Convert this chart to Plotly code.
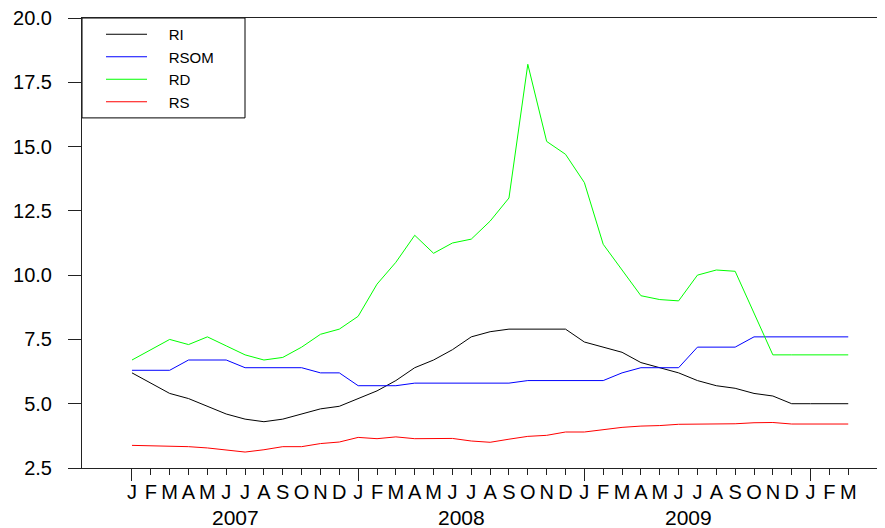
import plotly.graph_objects as go

# DATA (monthly, Jan 2007 - Mar 2010)
month_labels = ["J", "F", "M", "A", "M", "J", "J", "A", "S", "O", "N", "D",
                "J", "F", "M", "A", "M", "J", "J", "A", "S", "O", "N", "D",
                "J", "F", "M", "A", "M", "J", "J", "A", "S", "O", "N", "D",
                "J", "F", "M"]
years = ["2007", "2008", "2009"]

ri = [6.2, 5.8, 5.4, 5.2, 4.9, 4.6, 4.4, 4.3, 4.4, 4.6, 4.8, 4.9,
      5.2, 5.5, 5.9, 6.4, 6.7, 7.1, 7.6, 7.8, 7.9, 7.9, 7.9, 7.9,
      7.4, 7.2, 7.0, 6.6, 6.4, 6.2, 5.9, 5.7, 5.6, 5.4, 5.3, 5.0,
      5.0, 5.0, 5.0]
rsom = [6.3, 6.3, 6.3, 6.7, 6.7, 6.7, 6.4, 6.4, 6.4, 6.4, 6.2, 6.2,
        5.7, 5.7, 5.7, 5.8, 5.8, 5.8, 5.8, 5.8, 5.8, 5.9, 5.9, 5.9,
        5.9, 5.9, 6.2, 6.4, 6.4, 6.4, 7.2, 7.2, 7.2, 7.6, 7.6, 7.6,
        7.6, 7.6, 7.6]
rd = [6.7, 7.1, 7.5, 7.3, 7.6, 7.25, 6.9, 6.7, 6.8, 7.2, 7.7, 7.9,
      8.4, 9.65, 10.5, 11.55, 10.85, 11.25, 11.4, 12.1, 13.0, 18.2, 15.2, 14.7,
      13.6, 11.2, 10.2, 9.2, 9.05, 9.0, 10.0, 10.2, 10.15, 8.5, 6.9, 6.9,
      6.9, 6.9, 6.9]
rs = [3.38, 3.37, 3.36, 3.33, 3.28, 3.21, 3.12, 3.21, 3.33, 3.33, 3.45, 3.51,
      3.69, 3.64, 3.71, 3.64, 3.65, 3.65, 3.55, 3.5, 3.62, 3.73, 3.77, 3.9,
      3.9, 3.99, 4.08, 4.13, 4.15, 4.2, 4.2, 4.2, 4.22, 4.26, 4.27, 4.21,
      4.21, 4.21, 4.21]

x = list(range(len(month_labels)))
FONT = "Liberation Sans, Arial, sans-serif"
AXIS = "#222222"
XRANGE = [-2.652, 39.95]
PAD = "\u00a0" * 4  # push legend text right of the line sample

# CREATE FIGURE
fig = go.Figure()
for name, vals, col in [("RI", ri, "#000000"), ("RSOM", rsom, "#0000ff"),
                        ("RD", rd, "#00ff00"), ("RS", rs, "#ff0000")]:
    fig.add_trace(go.Scatter(x=x, y=vals, mode="lines", name=PAD + name,
                             hovertemplate=name + ": %{y}<extra></extra>",
                             line=dict(color=col, width=1)))

# year labels under the month letters
for k, yr in enumerate(years):
    fig.add_annotation(x=12 * k + 5.5, y=-0.11, xref="x", yref="paper",
                       text=yr, showarrow=False, yanchor="middle",
                       font=dict(family=FONT, size=21, color="#000"))

# legend frame
fig.add_shape(type="rect", xref="paper", yref="paper", x0=0, x1=0.203,
              y0=0.778, y1=1, line=dict(color="#000", width=1),
              fillcolor="white", layer="below")

# LAYOUT (page body adds 8px, so the figure is 8px smaller)
fig.update_layout(
    width=877, height=520,
    margin=dict(l=74, r=0, t=10, b=60),
    plot_bgcolor="white", paper_bgcolor="white",
    font=dict(family=FONT, color="#000"),
    showlegend=True,
    legend=dict(x=0, y=1, xanchor="left", yanchor="top",
                bgcolor="rgba(0,0,0,0)", borderwidth=0,
                font=dict(family=FONT, size=15, color="#000"),
                indentation=19, itemwidth=41),
    xaxis=dict(range=XRANGE, tickmode="array", tickvals=x, ticktext=month_labels,
               ticks="outside", ticklen=6, tickcolor=AXIS, tickwidth=1,
               showline=True, linecolor=AXIS, linewidth=1, mirror=True,
               showgrid=False, zeroline=False, ticklabelstandoff=0,
               tickfont=dict(family=FONT, size=20, color="#000")),
    xaxis2=dict(range=XRANGE, overlaying="x", anchor="y", side="bottom",
                tickmode="array", tickvals=[0, 12, 24, 36], ticks="outside",
                ticklen=12, tickcolor=AXIS, tickwidth=1, showticklabels=False,
                showline=False, showgrid=False, zeroline=False),
    yaxis=dict(range=[2.5, 20], tickmode="array",
               tickvals=[2.5, 5, 7.5, 10, 12.5, 15, 17.5, 20], tickformat=".1f",
               ticks="outside", ticklen=13, tickcolor=AXIS, tickwidth=1,
               showline=True, linecolor=AXIS, linewidth=1,
               showgrid=False, zeroline=False, ticklabelstandoff=12,
               ticklabeloverflow="allow", automargin=False,
               tickfont=dict(family=FONT, size=20, color="#000")),
)
# dummy trace so the January tick axis is drawn
fig.add_trace(go.Scatter(x=[None], y=[None], xaxis="x2", showlegend=False,
                         hoverinfo="skip"))

fig.write_html("out.html")
